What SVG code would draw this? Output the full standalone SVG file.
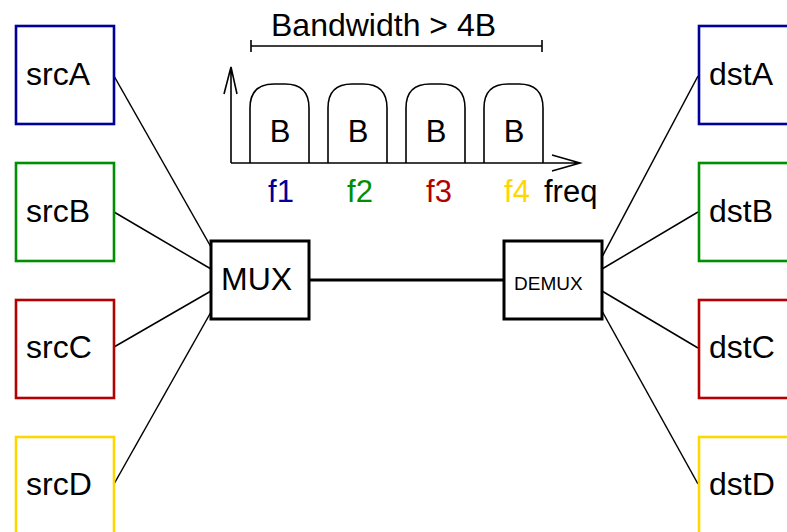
<svg xmlns="http://www.w3.org/2000/svg" width="787" height="532" viewBox="0 0 787 532">
<style>
.t{font-family:"Liberation Sans",Arial,sans-serif;fill:#000}
.big{font-size:32px}
.box{fill:#fff;stroke-width:2.6}
.blk{stroke:#000;fill:#fff;stroke-width:3}
.ln{stroke:#000;stroke-width:1.5;fill:none}
.ax{stroke:#000;stroke-width:1.6;fill:none}
.blue{stroke:#000099}.green{stroke:#008f00}.red{stroke:#b30000}.yellow{stroke:#ffd700}
</style>
<g id="connectors">
<line class="ln" x1="114" y1="76" x2="211" y2="247"/>
<line class="ln" x1="114" y1="212" x2="211" y2="269"/>
<line class="ln" x1="114" y1="347" x2="211" y2="291"/>
<line class="ln" x1="114" y1="484" x2="211" y2="312"/>
<line x1="309" y1="280" x2="504" y2="280" stroke="#000" stroke-width="3"/>
<line class="ln" x1="602" y1="257" x2="698" y2="76"/>
<line class="ln" x1="602" y1="269" x2="698" y2="212"/>
<line class="ln" x1="602" y1="291" x2="698" y2="348"/>
<line class="ln" x1="602" y1="311" x2="698" y2="484"/>
</g>
<g id="srcA"><rect class="box blue" x="16" y="26" width="98" height="98"/><text class="t big" x="26" y="85">srcA</text></g>
<g id="srcB"><rect class="box green" x="16" y="163" width="98" height="98"/><text class="t big" x="26" y="222">srcB</text></g>
<g id="srcC"><rect class="box red" x="16" y="300" width="98" height="98"/><text class="t big" x="26" y="358">srcC</text></g>
<g id="srcD"><rect class="box yellow" x="16" y="437" width="98" height="98"/><text class="t big" x="26" y="495">srcD</text></g>
<g id="dstA"><rect class="box blue" x="699" y="26" width="98" height="98"/><text class="t big" x="709" y="85">dstA</text></g>
<g id="dstB"><rect class="box green" x="699" y="163" width="98" height="98"/><text class="t big" x="709" y="222">dstB</text></g>
<g id="dstC"><rect class="box red" x="699" y="300" width="98" height="98"/><text class="t big" x="709" y="358">dstC</text></g>
<g id="dstD"><rect class="box yellow" x="699" y="437" width="98" height="98"/><text class="t big" x="709" y="495">dstD</text></g>
<g id="MUX"><rect class="blk" x="211" y="241" width="98" height="78"/><text class="t big" x="221" y="290">MUX</text></g>
<g id="DEMUX"><rect class="blk" x="504" y="241" width="98" height="78"/><text class="t" x="514" y="290" font-size="19">DEMUX</text></g>
<g id="spectrum">
<text class="t big" x="271" y="36">Bandwidth &gt; 4B</text>
<path class="ax" d="M251,46 H542 M251,40 V52 M542,40 V52"/>
<path class="ax" d="M231,163 V67 M224,94 L231,67 L237,94 M231,163 H580 M552,155 L580,163 L552,171"/>
<path class="ax" d="M250,163 V108 Q250,84 274,84 H285 Q309,84 309,108 V163"/>
<path class="ax" d="M328,163 V108 Q328,84 352,84 H363 Q387,84 387,108 V163"/>
<path class="ax" d="M406,163 V108 Q406,84 430,84 H441 Q465,84 465,108 V163"/>
<path class="ax" d="M484,163 V108 Q484,84 508,84 H519 Q543,84 543,108 V163"/>
<g class="t" font-size="31" text-anchor="middle">
<text x="280" y="142">B</text><text x="358" y="142">B</text><text x="436" y="142">B</text><text x="514" y="142">B</text>
<text x="281" y="202" fill="#000099">f1</text><text x="360" y="202" fill="#008f00">f2</text><text x="439" y="202" fill="#b30000">f3</text><text x="517" y="202" fill="#ffd700">f4</text>
</g>
<text class="t" font-size="31" x="544" y="202">freq</text>
</g>
</svg>
